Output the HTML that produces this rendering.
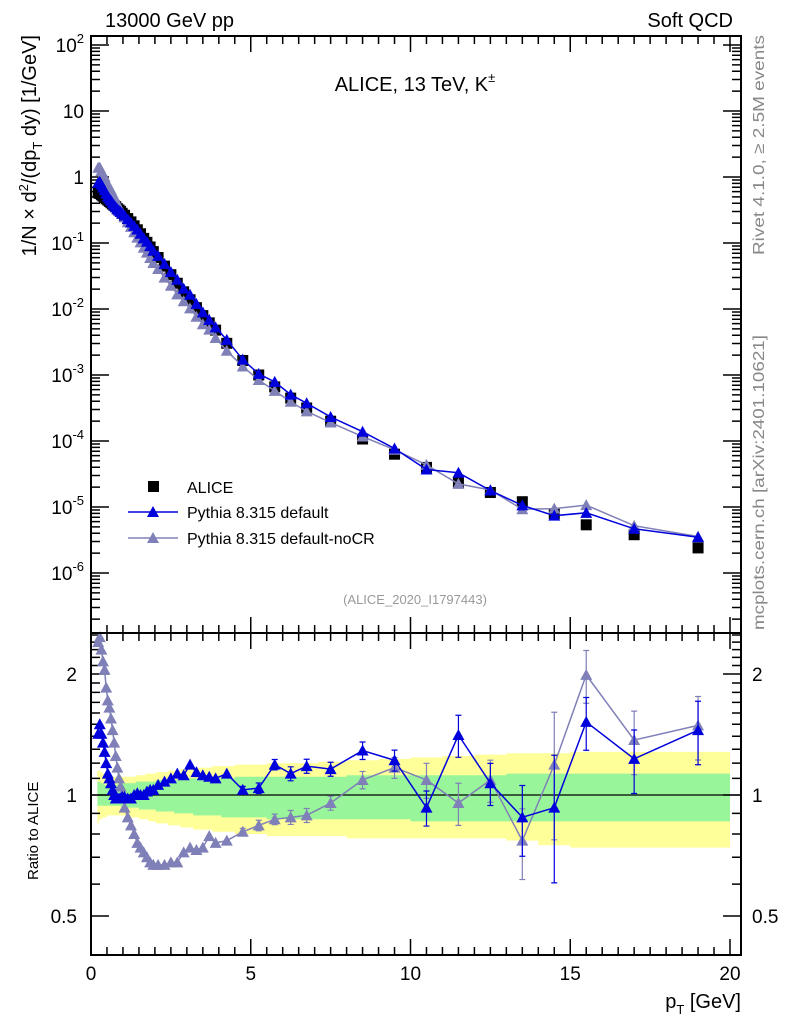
<!DOCTYPE html>
<html><head><meta charset="utf-8"><style>
body{margin:0;background:#fff;}
svg text{font-family:"Liberation Sans",sans-serif;}
</style></head><body>
<svg id="c" width="786" height="1024" xmlns="http://www.w3.org/2000/svg">
<rect width="786" height="1024" fill="#fff"/>
<g id="bands"></g><g id="ticks"></g><g id="series"></g>
<rect x="91" y="36" width="650" height="597" fill="none" stroke="#000" stroke-width="2"/>
<rect x="91" y="633" width="650" height="322" fill="none" stroke="#000" stroke-width="2"/>
<text x="105" y="27" font-size="20">13000 GeV pp</text>
<text x="733" y="27" font-size="20" text-anchor="end">Soft QCD</text>
<text x="415" y="91" font-size="20" text-anchor="middle">ALICE, 13 TeV, K<tspan font-size="13" dy="-9">±</tspan></text>
<text x="415" y="604" font-size="13" fill="#999" text-anchor="middle">(ALICE_2020_I1797443)</text>
<text transform="translate(36,35) rotate(-90)" font-size="20" text-anchor="end">1/N × d<tspan font-size="13" dy="-8">2</tspan><tspan dy="8">/(dp</tspan><tspan font-size="13" dy="6">T</tspan><tspan dy="-6"> dy) [1/GeV]</tspan></text>
<text transform="translate(38,880) rotate(-90)" font-size="15" text-anchor="start">Ratio to ALICE</text>
<text x="741" y="1008" font-size="20" text-anchor="end">p<tspan font-size="13" dy="6">T</tspan><tspan dy="-6"> [GeV]</tspan></text>
<text transform="translate(764,255) rotate(-90)" font-size="16" fill="#888" text-anchor="start" textLength="220" lengthAdjust="spacingAndGlyphs">Rivet 4.1.0, ≥ 2.5M events</text>
<text transform="translate(764,630) rotate(-90)" font-size="16" fill="#888" text-anchor="start" textLength="295" lengthAdjust="spacingAndGlyphs">mcplots.cern.ch [arXiv:2401.10621]</text>
<g>
<rect x="148" y="481" width="11" height="11" fill="#000"/>
<text x="187" y="493" font-size="16">ALICE</text>
<line x1="128" y1="512" x2="178" y2="512" stroke="#0000dd" stroke-width="1.5"/>
<path d="M153,506 l6,11 h-12z" fill="#0000dd"/>
<text x="187" y="518" font-size="16">Pythia 8.315 default</text>
<line x1="128" y1="538" x2="178" y2="538" stroke="#8080b8" stroke-width="1.5"/>
<path d="M153,532 l6,11 h-12z" fill="#8080b8"/>
<text x="187" y="544" font-size="16">Pythia 8.315 default-noCR</text>
</g>
</svg>
<script>
const pT=[0.225,0.275,0.325,0.375,0.425,0.475,0.525,0.575,0.625,0.675,0.725,0.775,0.825,0.875,0.925,0.975,1.05,1.15,1.25,1.35,1.45,1.55,1.65,1.75,1.85,1.95,2.1,2.3,2.5,2.7,2.9,3.1,3.3,3.5,3.7,3.9,4.25,4.75,5.25,5.75,6.25,6.75,7.5,8.5,9.5,10.5,11.5,12.5,13.5,14.5,15.5,17,19];
const aliceLog=[-0.24,-0.25,-0.27,-0.29,-0.31,-0.33,-0.35,-0.37,-0.39,-0.41,-0.43,-0.45,-0.48,-0.50,-0.52,-0.55,-0.58,-0.63,-0.68,-0.74,-0.80,-0.86,-0.93,-0.99,-1.06,-1.13,-1.22,-1.35,-1.48,-1.61,-1.74,-1.86,-1.98,-2.10,-2.21,-2.32,-2.52,-2.78,-3.0,-3.18,-3.35,-3.50,-3.70,-3.97,-4.2,-4.40,-4.63,-4.78,-4.92,-5.1,-5.27,-5.42,-5.62];
const ratioDefault=[1.42,1.5,1.42,1.35,1.28,1.2,1.13,1.1,1.07,1.03,1.0,0.98,0.98,0.98,0.98,0.99,0.99,0.98,0.98,1.0,1.01,1.0,1.0,1.02,1.03,1.03,1.06,1.08,1.1,1.13,1.12,1.19,1.14,1.12,1.11,1.10,1.13,1.03,1.04,1.19,1.13,1.18,1.16,1.29,1.22,0.93,1.41,1.07,0.88,0.93,1.52,1.23,1.45];
const ratioNoCR=[2.40,2.47,2.3,2.15,2.05,1.85,1.72,1.65,1.55,1.45,1.35,1.25,1.17,1.1,1.05,1.0,0.93,0.88,0.84,0.80,0.76,0.74,0.72,0.70,0.68,0.67,0.67,0.67,0.68,0.68,0.72,0.74,0.73,0.74,0.79,0.76,0.77,0.81,0.84,0.87,0.88,0.89,0.955,1.09,1.17,1.09,0.955,1.09,0.77,1.19,1.99,1.37,1.49];
const errRel=[0,0,0,0,0,0,0,0,0,0,0,0,0,0,0,0,0,0,0,0,0,0,0,0,0,0,0,0,0,0,0,0,0,0,0,0,0,0.02,0.03,0.03,0.04,0.04,0.04,0.05,0.06,0.1,0.12,0.12,0.2,0.35,0.15,0.18,0.18];
const yellowUp=[1.15,1.15,1.14,1.13,1.13,1.12,1.12,1.12,1.11,1.11,1.11,1.11,1.11,1.11,1.11,1.11,1.11,1.11,1.11,1.11,1.12,1.12,1.12,1.13,1.13,1.13,1.14,1.14,1.15,1.15,1.16,1.16,1.17,1.17,1.17,1.18,1.18,1.19,1.19,1.2,1.2,1.2,1.21,1.22,1.23,1.24,1.25,1.26,1.27,1.27,1.28,1.28,1.28];
const yellowDn=[0.85,0.87,0.87,0.88,0.88,0.88,0.89,0.89,0.89,0.89,0.89,0.89,0.89,0.89,0.89,0.89,0.89,0.89,0.88,0.88,0.88,0.87,0.87,0.87,0.86,0.86,0.85,0.85,0.84,0.84,0.83,0.83,0.82,0.82,0.82,0.81,0.81,0.8,0.8,0.79,0.79,0.79,0.79,0.78,0.78,0.78,0.78,0.78,0.77,0.75,0.74,0.74,0.74];
const greenUp=[1.08,1.08,1.07,1.07,1.06,1.06,1.06,1.06,1.06,1.06,1.06,1.06,1.06,1.06,1.07,1.07,1.07,1.07,1.07,1.07,1.08,1.08,1.08,1.08,1.08,1.08,1.09,1.09,1.09,1.09,1.09,1.10,1.10,1.10,1.10,1.10,1.10,1.11,1.11,1.11,1.11,1.11,1.11,1.12,1.12,1.12,1.12,1.12,1.13,1.13,1.13,1.13,1.13];
const greenDn=[0.94,0.94,0.94,0.94,0.94,0.94,0.94,0.94,0.94,0.94,0.94,0.94,0.94,0.94,0.94,0.93,0.93,0.93,0.93,0.93,0.93,0.92,0.92,0.92,0.92,0.92,0.91,0.91,0.91,0.90,0.90,0.90,0.89,0.89,0.89,0.89,0.88,0.88,0.88,0.87,0.87,0.87,0.87,0.87,0.87,0.86,0.86,0.86,0.86,0.86,0.86,0.86,0.86];
const xTicks=[0,5,10,15,20];
const yTickExp=[2,1,0,-1,-2,-3,-4,-5,-6];
const ratioTicks=[0.5,1,2];

const NS='http://www.w3.org/2000/svg';
const X=p=>91+p*31.95;
const Y=v=>45+(2-Math.log10(v))*66;
const R=r=>795-Math.log2(r)*121;
function mk(tag,attrs,parent){const e=document.createElementNS(NS,tag);for(const k in attrs)e.setAttribute(k,attrs[k]);document.getElementById(parent).appendChild(e);return e;}
const edges=[];
for(let i=0;i<pT.length;i++){const lo=i===0?pT[0]-(pT[1]-pT[0])/2:(pT[i-1]+pT[i])/2;edges.push(lo);}
edges.push(20);
function band(up,dn,col,name){
  let top='',bot='';
  for(let i=0;i<pT.length;i++){
    top+=`L${X(edges[i])},${R(up[i])}L${X(edges[i+1])},${R(up[i])}`;
    bot=`L${X(edges[i+1])},${R(dn[i])}L${X(edges[i])},${R(dn[i])}`+bot;
  }
  const e=mk('path',{d:'M'+top.slice(1)+bot+'Z',fill:col},'bands');
  
  
}
band(yellowUp,yellowDn,'#ffff99','total-uncertainty-band');
band(greenUp,greenDn,'#99f599','stat-uncertainty-band');
const one=mk('line',{x1:91,x2:741,y1:R(1),y2:R(1),stroke:'#000','stroke-width':1.2},'bands');


let tp='';
for(let k=0;k<=40;k++){const p=k*0.5;const maj=k%10===0;const L=maj?16:8;const x=X(p);
  tp+=`M${x},633v-${L}M${x},36v${L}M${x},633v${L}M${x},955v-${L}`;}
for(const e of yTickExp){for(let m=1;m<=9;m++){const v=m*Math.pow(10,e);const y=Y(v);if(y<36||y>633)continue;const L=m===1?18:9;tp+=`M91,${y}h${L}M741,${y}h-${L}`;}}
for(let m=2;m<=9;m++){const y=Y(m*1e-7);if(y<=633)tp+=`M91,${y}h9M741,${y}h-9`;}
for(let k=4;k<=25;k++){const r=k/10;const y=R(r);if(y<633||y>955)continue;const maj=(k===5||k===10||k===20);const L=maj?18:9;tp+=`M91,${y}h${L}M741,${y}h-${L}`;}
const tk=mk('path',{d:tp,stroke:'#000','stroke-width':1.5,fill:'none'},'ticks');


for(const t of xTicks){const e=mk('text',{x:X(t),y:980,'font-size':19,'text-anchor':'middle'},'ticks');e.textContent=t;
  
  }
yTickExp.forEach(ex=>{const e=mk('text',{x:84,y:Y(Math.pow(10,ex))+7,'font-size':19,'text-anchor':'end'},'ticks');
  
  
  if(ex===0){e.textContent='1';}
  else if(ex===1){e.textContent='10';}
  else {e.innerHTML='10<tspan font-size="13" dy="-9">'+ex+'</tspan>';}
});
for(const t of ratioTicks){for(const side of [0,1]){const e=mk('text',{x:side?752:77,y:R(t)+7,'font-size':19,'text-anchor':side?'start':'end'},'ticks');e.textContent=t;
  
  }}
function tri(x,y,col,name){const e=mk('path',{d:`M${x},${y-6}l6,11h-12z`,fill:col},'series');}
function series(ratio,col,name){
  let dm='',dr='';
  pT.forEach((p,i)=>{const v=Math.pow(10,aliceLog[i])*ratio[i];dm+=(i?'L':'M')+X(p)+','+Y(v);dr+=(i?'L':'M')+X(p)+','+R(ratio[i]);});
  const l1=mk('path',{d:dm,stroke:col,'stroke-width':1.5,fill:'none'},'series');
  const l2=mk('path',{d:dr,stroke:col,'stroke-width':1.5,fill:'none'},'series');
  pT.forEach((p,i)=>{const v=Math.pow(10,aliceLog[i])*ratio[i];
    if(errRel[i]>0){const e=errRel[i]*ratio[i];const eb=mk('path',{d:`M${X(p)},${R(ratio[i]+e)}V${R(Math.max(ratio[i]-e,0.41))}M${X(p)-3},${R(ratio[i]+e)}h6M${X(p)-3},${R(Math.max(ratio[i]-e,0.41))}h6`,stroke:col,'stroke-width':1.2},'series');
      
      }
    tri(X(p),Y(v),col,name+'-point');tri(X(p),R(ratio[i]),col,name+'-ratio-point');});
}
pT.forEach((p,i)=>{const v=Math.pow(10,aliceLog[i]);const e=mk('rect',{x:X(p)-5.5,y:Y(v)-5.5,width:11,height:11,fill:'#000'},'series');
  
  });
series(ratioNoCR,'#8080b8','pythia-nocr');
series(ratioDefault,'#0000dd','pythia-default');
</script>
</body></html>
